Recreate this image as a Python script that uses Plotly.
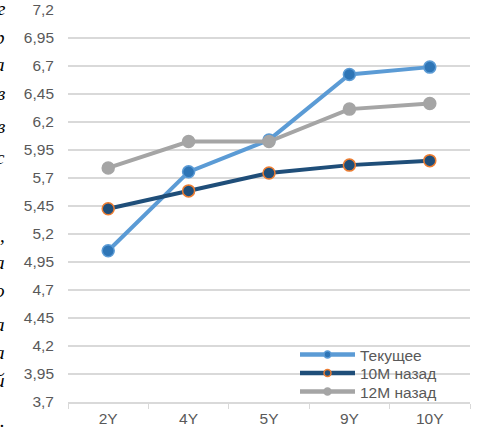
import plotly.graph_objects as go

categories = ["2Y", "4Y", "5Y", "9Y", "10Y"]
current = [5.05, 5.755, 6.04, 6.625, 6.69]
ago_10m = [5.425, 5.585, 5.745, 5.815, 5.855]
ago_12m = [5.79, 6.025, 6.025, 6.315, 6.365]
y_ticks = [3.7, 3.95, 4.2, 4.45, 4.7, 4.95, 5.2, 5.45, 5.7, 5.95, 6.2, 6.45, 6.7, 6.95, 7.2]
names = ["Текущее", "10M назад", "12M назад"]

# cut-off fragments of surrounding text at the left edge
side_chars = ["г", "р", "а", "в", "в", "с", ",", "а", "о", "а", "а", "й", "."]
side_y_px = [8, 37, 65, 93, 126, 157, 236, 262, 290, 324, 352, 380, 420]

W, H = 480, 428
ML, MR, MT, MB = 68, 10, 10, 26

styles = [
    dict(line="#5B9BD5", fill="#2E75B6", edge="#5B9BD5"),
    dict(line="#1F4E79", fill="#1F4E79", edge="#ED7D31"),
    dict(line="#A5A5A5", fill="#A5A5A5", edge="#A5A5A5"),
]
series = [current, ago_10m, ago_12m]
legend_ids = ["legend", "legend2", "legend3"]
legend_row_px = [355, 373.5, 392]

fig = go.Figure()
for s, vals, nm in zip(styles, series, names):
    fig.add_trace(go.Scatter(
        x=categories, y=vals, mode="lines+markers", name=nm, showlegend=False,
        line=dict(color=s["line"], width=4),
        marker=dict(size=12, color=s["fill"], line=dict(color=s["edge"], width=1.5)),
    ))
for s, nm, lid in zip(styles, names, legend_ids):
    fig.add_trace(go.Scatter(
        x=[None], y=[None], mode="lines+markers", name=nm, showlegend=True,
        legend=lid,
        line=dict(color=s["line"], width=4.5),
        marker=dict(size=7, color=s["fill"], line=dict(color=s["edge"], width=1.5)),
    ))

ph = H - MT - MB
pw = W - ML - MR

annotations = []
for ch, yp in zip(side_chars, side_y_px):
    annotations.append(dict(
        text="<i>" + ch + "</i>", xref="paper", yref="paper",
        x=(7 - ML) / pw, y=(H - MB - yp) / ph, xanchor="right", yanchor="middle",
        showarrow=False, font=dict(family="Liberation Serif", size=19, color="#000000"),
    ))

legend_common = dict(
    xanchor="left", yanchor="middle",
    bgcolor="rgba(0,0,0,0)", font=dict(size=15.5, color="#595959"),
    itemwidth=55, borderwidth=0,
)
legends = {}
for lid, yp in zip(legend_ids, legend_row_px):
    legends[lid] = dict(x=(295 - ML) / pw, y=(H - MB - yp) / ph, **legend_common)

fig.update_layout(
    width=W, height=H,
    margin=dict(l=ML, r=MR, t=MT, b=MB, autoexpand=False),
    paper_bgcolor="white", plot_bgcolor="white",
    separators=", ",
    font=dict(family="Liberation Sans, Arial", size=15.5, color="#595959"),
    showlegend=True,
    annotations=annotations,
    xaxis=dict(
        type="category", range=[-0.5, 4.5], showgrid=False, automargin=False,
        showline=True, linecolor="#D9D9D9", linewidth=1.5,
        ticks="outside", tickson="boundaries", ticklen=5, tickcolor="#D9D9D9",
        tickfont=dict(size=15.5, color="#595959"),
        ticklabelstandoff=2,
        zeroline=False,
    ),
    yaxis=dict(
        range=[3.7, 7.2], tickvals=y_ticks, tickformat=".2~f", automargin=False,
        showgrid=True, gridcolor="#D9D9D9", gridwidth=1.5,
        zeroline=False, showline=False, ticks="",
        ticklabelstandoff=13,
        tickfont=dict(size=15.5, color="#595959"),
    ),
    **legends,
)

fig.write_html("out.html", config={"displayModeBar": False},
               post_script="document.body.style.margin='0';")
